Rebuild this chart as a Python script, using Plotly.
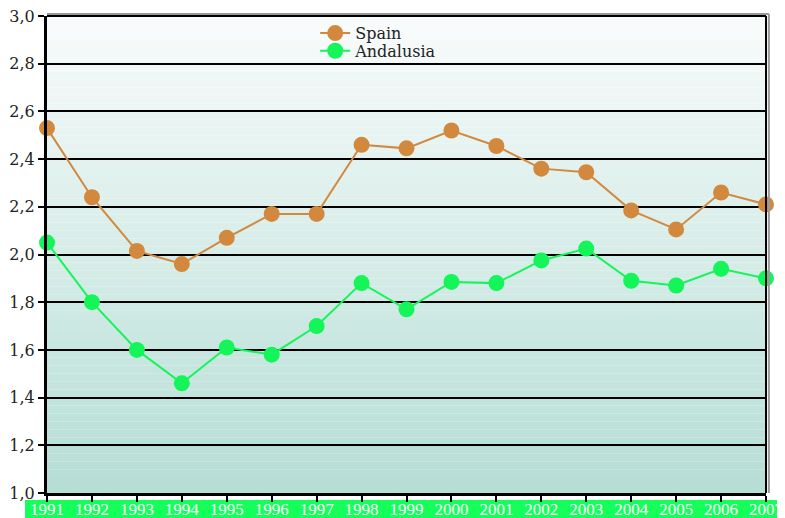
import plotly.graph_objects as go

years = list(range(1991, 2008))
spain = [2.53, 2.24, 2.015, 1.96, 2.07, 2.17, 2.17, 2.46, 2.445, 2.52, 2.455, 2.36, 2.345, 2.185, 2.105, 2.26, 2.21]
andalusia = [2.05, 1.80, 1.60, 1.46, 1.61, 1.58, 1.70, 1.88, 1.77, 1.885, 1.88, 1.975, 2.025, 1.89, 1.87, 1.94, 1.90]
y_ticks = [1.0, 1.2, 1.4, 1.6, 1.8, 2.0, 2.2, 2.4, 2.6, 2.8, 3.0]
y_tick_labels = ["1,0", "1,2", "1,4", "1,6", "1,8", "2,0", "2,2", "2,4", "2,6", "2,8", "3,0"]

SERIF = "DejaVu Serif"
ORANGE = "#d2893e"
GREEN = "#14f55a"
fig = go.Figure()
fig.add_trace(go.Scatter(x=years, y=spain, name="Spain", mode="lines+markers",
                         line=dict(color=ORANGE, width=2),
                         marker=dict(size=16, color=ORANGE), cliponaxis=False,
                         legend="legend"))
fig.add_trace(go.Scatter(x=years, y=andalusia, name="Andalusia", mode="lines+markers",
                         line=dict(color=GREEN, width=2),
                         marker=dict(size=16, color=GREEN), cliponaxis=False,
                         legend="legend2"))

# gradient background of the plot area
shapes = []
n = 60
top = (248, 251, 251)
bot = (181, 222, 213)
for i in range(n):
    t = i / (n - 1)
    c = tuple(round(top[k] + (bot[k] - top[k]) * t) for k in range(3))
    shapes.append(dict(type="rect", xref="paper", yref="paper", x0=0, x1=1,
                       y0=1 - (i + 1) / n, y1=1 - i / n, line=dict(width=0),
                       fillcolor="rgb(%d,%d,%d)" % c, layer="below"))
# green band behind year labels
shapes.append(dict(type="rect", xref="paper", yref="paper", x0=-0.0306, x1=1.03,
                   y0=-0.06, y1=-0.0147, line=dict(width=0), fillcolor="#14ff5a", layer="below"))
# shadow on top/right
shapes.append(dict(type="line", xref="paper", yref="paper", x0=0, x1=1.004, y0=1.004, y1=1.004,
                   line=dict(color="#999999", width=2)))
shapes.append(dict(type="line", xref="paper", yref="paper", x0=1.004, x1=1.004, y0=0, y1=1.004,
                   line=dict(color="#999999", width=2)))
shapes.append(dict(type="line", xref="paper", yref="paper", x0=0, x1=1, y0=1, y1=1,
                   line=dict(color="black", width=2)))
shapes.append(dict(type="line", xref="paper", yref="paper", x0=1, x1=1, y0=0, y1=1,
                   line=dict(color="black", width=2)))

legend_style = dict(xanchor="left", yanchor="middle", bgcolor="rgba(0,0,0,0)",
                    font=dict(family=SERIF, size=16, color="#222222"), itemwidth=30)

fig.update_layout(
    width=777, height=510,
    margin=dict(l=39, r=19, t=8, b=25, autoexpand=False),
    paper_bgcolor="white", plot_bgcolor="rgba(0,0,0,0)",
    shapes=shapes,
    showlegend=True,
    legend=dict(x=0.373, y=0.964, **legend_style),
    legend2=dict(x=0.373, y=0.927, **legend_style),
    xaxis=dict(range=[1991, 2007], tickvals=years, ticktext=[str(y) for y in years],
               showgrid=False, zeroline=False, showline=True, linecolor="black", linewidth=3,
               ticks="outside", ticklen=6, tickcolor="black", tickwidth=2, automargin=False,
               ticklabeloverflow="allow", ticklabelstandoff=-7,
               tickfont=dict(family="Liberation Serif", size=17, color="white")),
    yaxis=dict(range=[1.0, 3.0], tickvals=y_ticks, ticktext=y_tick_labels,
               showgrid=True, gridcolor="black", gridwidth=1.5, zeroline=False,
               showline=True, linecolor="black", linewidth=3,
               ticks="outside", ticklen=6, tickcolor="black", tickwidth=2, automargin=False,
               ticklabeloverflow="allow",
               tickfont=dict(family=SERIF, size=16, color="#222222")),
)
fig.write_html("out.html")
